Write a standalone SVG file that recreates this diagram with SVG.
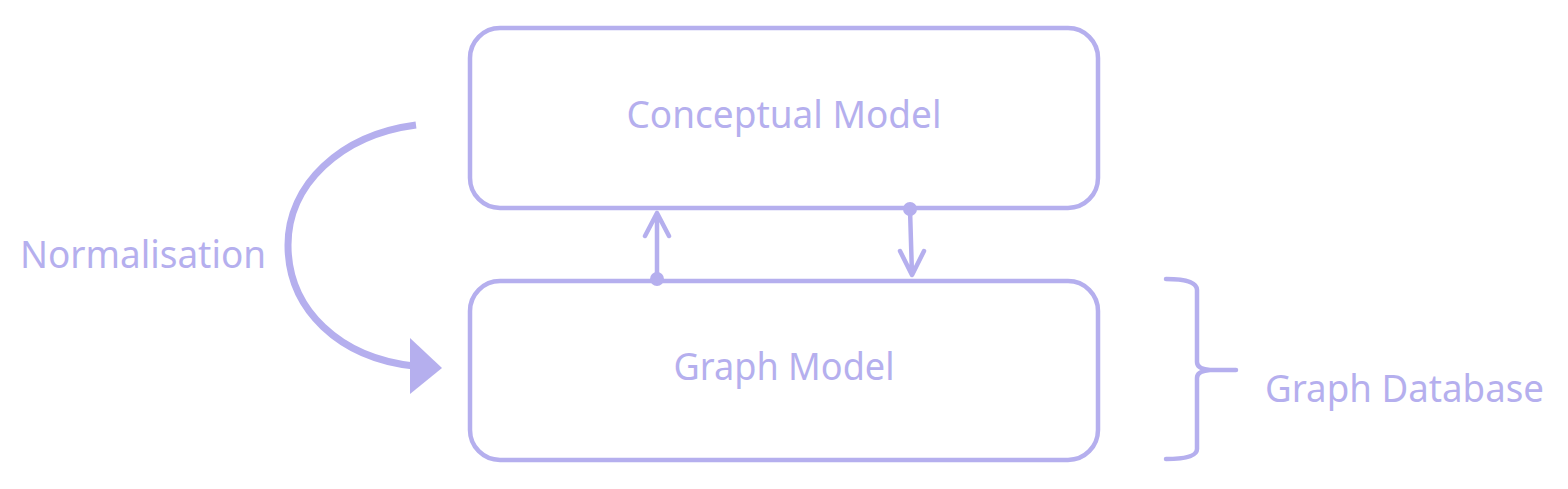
<svg xmlns="http://www.w3.org/2000/svg" width="1568" height="489" viewBox="0 0 1568 489">
<style>
.box{fill:#fff;stroke:#b5afee;stroke-width:4.5}
.lbl{font-family:"Noto Sans","Open Sans",sans-serif;font-size:38px;fill:#b5afee}
.ln{fill:none;stroke:#b5afee;stroke-width:4.5;stroke-linecap:round;stroke-linejoin:round}
.dot{fill:#b5afee}
</style>
<rect width="1568" height="489" fill="#fff"/>
<g id="conceptual">
<rect class="box" x="470" y="28" width="628" height="180" rx="30"/>
<text class="lbl" x="784" y="128" text-anchor="middle" textLength="315" lengthAdjust="spacingAndGlyphs">Conceptual Model</text>
</g>
<g id="graph">
<rect class="box" x="470" y="281" width="628" height="179" rx="30"/>
<text class="lbl" x="784" y="380" text-anchor="middle" textLength="221" lengthAdjust="spacingAndGlyphs">Graph Model</text>
</g>
<g id="normalisation">
<text class="lbl" x="20" y="268" textLength="246" lengthAdjust="spacingAndGlyphs">Normalisation</text>
</g>
<g id="graphdb">
<text class="lbl" x="1265" y="402" textLength="279" lengthAdjust="spacingAndGlyphs">Graph Database</text>
</g>
<g id="connectors">
<circle class="dot" cx="657" cy="279" r="7"/>
<path class="ln" d="M657,279 L657,213 M645,236 L657,213 L669,236"/>
<circle class="dot" cx="910" cy="209" r="7"/>
<path class="ln" d="M910,209 L912,275 M900,251 L912,275 L924,251"/>
<path d="M416,125 C340,135 288,185 288,245 C288,310 340,358 414,366" fill="none" stroke="#b5afee" stroke-width="7"/>
<polygon points="410,338 442,368 410,394" fill="#b5afee"/>
<path class="ln" d="M1166,279 Q1197,279 1197,290 L1197,362 Q1197,369 1210,370 L1236,370 M1210,370 Q1197,371 1197,378 L1197,449 Q1197,459 1166,459"/>
</g>
</svg>
